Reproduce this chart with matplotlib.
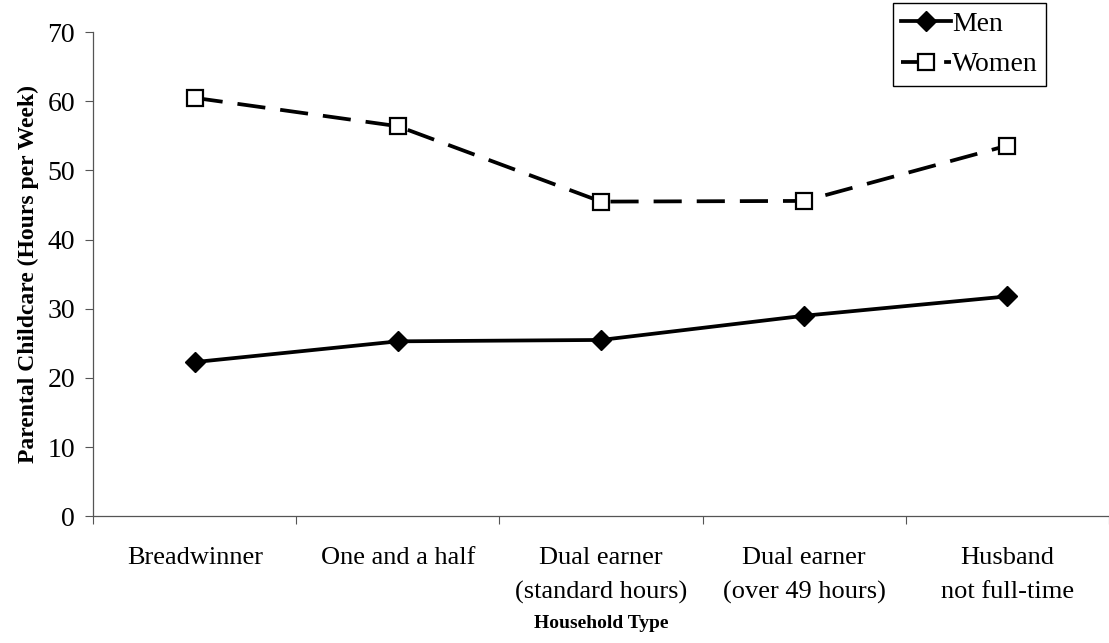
import matplotlib
matplotlib.use('Agg')
import matplotlib.pyplot as plt
import numpy as np

categories = ['Breadwinner', 'One and a half', 'Dual earner\n(standard hours)',
              'Dual earner\n(over 49 hours)', 'Husband\nnot full-time']
men = [22.3, 25.3, 25.5, 29.0, 31.8]
women = [60.5, 56.4, 45.5, 45.6, 53.6]

plt.rcParams['font.family'] = ['Liberation Serif', 'DejaVu Serif']

fig = plt.figure(figsize=(11.09, 6.43), dpi=100)
ax = fig.add_axes([0.084, 0.197, 0.916, 0.753])

x = np.arange(len(categories))
ax.plot(x, men, color='black', lw=2.7, marker='D', ms=10, mfc='black', mec='black', label='Men')
ax.plot(x, women, color='black', lw=2.7, ls=(0, (7.5, 4)), marker='s', ms=11,
        mfc='white', mec='black', mew=1.6, label='Women')

ax.set_xlim(-0.5, len(categories) - 0.5)
ax.set_ylim(0, 70)
ax.set_yticks(range(0, 71, 10))
ax.set_xticks(x)
ax.set_xticklabels(categories, fontsize=19, linespacing=1.7)
ax.set_xticks(np.arange(-0.5, len(categories), 1), minor=True)
ax.tick_params(axis='x', which='major', length=0, pad=22)
ax.tick_params(axis='x', which='minor', length=6, width=0.8, color='#555555')
ax.tick_params(axis='y', length=6, width=0.8, color='#555555', labelsize=20, pad=7)

for s in ['top', 'right']:
    ax.spines[s].set_visible(False)
for s in ['left', 'bottom']:
    ax.spines[s].set_color('#555555')
    ax.spines[s].set_linewidth(0.9)

ax.set_ylabel('Parental Childcare (Hours per Week)', fontsize=17, fontweight='bold', labelpad=6)
ax.set_xlabel('Household Type', fontsize=14, fontweight='bold', labelpad=8)

leg = fig.legend(loc='upper right', bbox_to_anchor=(0.946, 1.0), fontsize=20,
                 handlelength=1.8, handletextpad=0.05, borderpad=0.3, labelspacing=0.55,
                 borderaxespad=0.1, fancybox=False, edgecolor='black', framealpha=1)
leg.get_frame().set_linewidth(1.0)

fig.savefig('out.png', dpi=100)
